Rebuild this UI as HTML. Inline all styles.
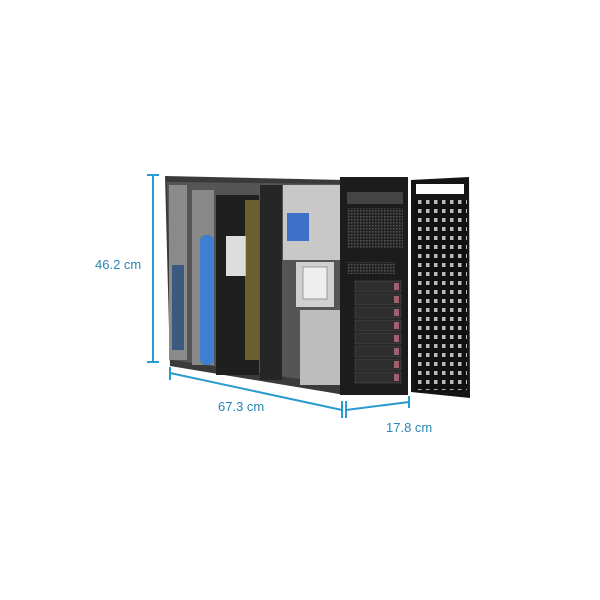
<!DOCTYPE html>
<html><head><style>
body{margin:0;background:#fff;width:600px;height:600px;overflow:hidden}
svg{display:block}
text{font-family:"Liberation Sans",sans-serif;font-size:13px;fill:#2a86b3}
</style></head><body>
<svg width="600" height="600" viewBox="0 0 600 600">
<defs>
<pattern id="holes" x="0" y="0" width="8" height="9" patternUnits="userSpaceOnUse">
<rect width="8" height="9" fill="#111"/><rect x="2" y="2" width="3.5" height="4" fill="#bbb"/>
</pattern>
<pattern id="mesh" width="3" height="3" patternUnits="userSpaceOnUse"><rect width="3" height="3" fill="#222"/><rect width="1.5" height="1.5" fill="#555"/></pattern>
</defs>
<!-- chassis interior -->
<polygon points="165,176 345,180 345,395 170,366" fill="#3a3a3a"/>
<polygon points="167,182 340,184 340,385 172,360" fill="#555"/>
<!-- left wall light -->
<rect x="169" y="185" width="18" height="175" fill="#8a8a8a"/>
<rect x="172" y="265" width="12" height="85" fill="#3c5a80"/>
<!-- blue riser -->
<rect x="192" y="190" width="22" height="175" fill="#888"/>
<rect x="200" y="235" width="14" height="130" rx="6" fill="#3f7fd0"/>
<!-- motherboard area -->
<rect x="216" y="195" width="43" height="180" fill="#1f1f1f"/>
<rect x="226" y="236" width="20" height="40" fill="#ddd"/>
<rect x="245" y="200" width="14" height="160" fill="#b8a040" opacity=".5"/>
<rect x="260" y="185" width="22" height="195" fill="#262626"/>
<!-- right interior -->
<rect x="283" y="185" width="57" height="75" fill="#c8c8c8"/>
<rect x="287" y="213" width="22" height="28" fill="#3f70c8"/>
<rect x="296" y="262" width="38" height="45" fill="#d0d0d0"/>
<rect x="303" y="267" width="24" height="32" fill="#eee" stroke="#999"/>
<rect x="300" y="310" width="40" height="75" fill="#bdbdbd"/>
<!-- front panel -->
<rect x="340" y="177" width="68" height="218" fill="#1c1c1c"/>
<rect x="347" y="192" width="56" height="12" fill="#444"/>
<rect x="347" y="208" width="56" height="40" fill="url(#mesh)"/>
<rect x="347" y="262" width="48" height="12" fill="url(#mesh)"/>
<g fill="#2e2e2e" stroke="#555" stroke-width=".5">
<rect x="355" y="281" width="46" height="11"/><rect x="355" y="294" width="46" height="11"/>
<rect x="355" y="307" width="46" height="11"/><rect x="355" y="320" width="46" height="11"/>
<rect x="355" y="333" width="46" height="11"/><rect x="355" y="346" width="46" height="11"/>
<rect x="355" y="359" width="46" height="11"/><rect x="355" y="372" width="46" height="11"/>
</g>
<g fill="#a06070">
<rect x="394" y="283" width="5" height="7"/><rect x="394" y="296" width="5" height="7"/><rect x="394" y="309" width="5" height="7"/><rect x="394" y="322" width="5" height="7"/><rect x="394" y="335" width="5" height="7"/><rect x="394" y="348" width="5" height="7"/><rect x="394" y="361" width="5" height="7"/><rect x="394" y="374" width="5" height="7"/>
</g>
<!-- door -->
<polygon points="411,180 469,177 470,398 411,392" fill="#151515"/>
<rect x="416" y="184" width="48" height="10" fill="#fff"/>
<rect x="414" y="200" width="53" height="190" fill="url(#holes)"/>
<!-- dimension lines -->
<g stroke="#2a9bd0" stroke-width="2" fill="none">
<line x1="153" y1="175" x2="153" y2="362"/><line x1="147" y1="175" x2="159" y2="175"/><line x1="147" y1="362" x2="159" y2="362"/>
<line x1="170" y1="373" x2="342" y2="410"/><line x1="170" y1="367" x2="170" y2="380"/><line x1="342" y1="401" x2="342" y2="418"/>
<line x1="346" y1="410" x2="409" y2="402"/><line x1="346" y1="401" x2="346" y2="418"/><line x1="409" y1="396" x2="409" y2="408"/>
</g>
<text x="95" y="269">46.2 cm</text>
<text x="218" y="411">67.3 cm</text>
<text x="386" y="432">17.8 cm</text>
</svg>
</body></html>
